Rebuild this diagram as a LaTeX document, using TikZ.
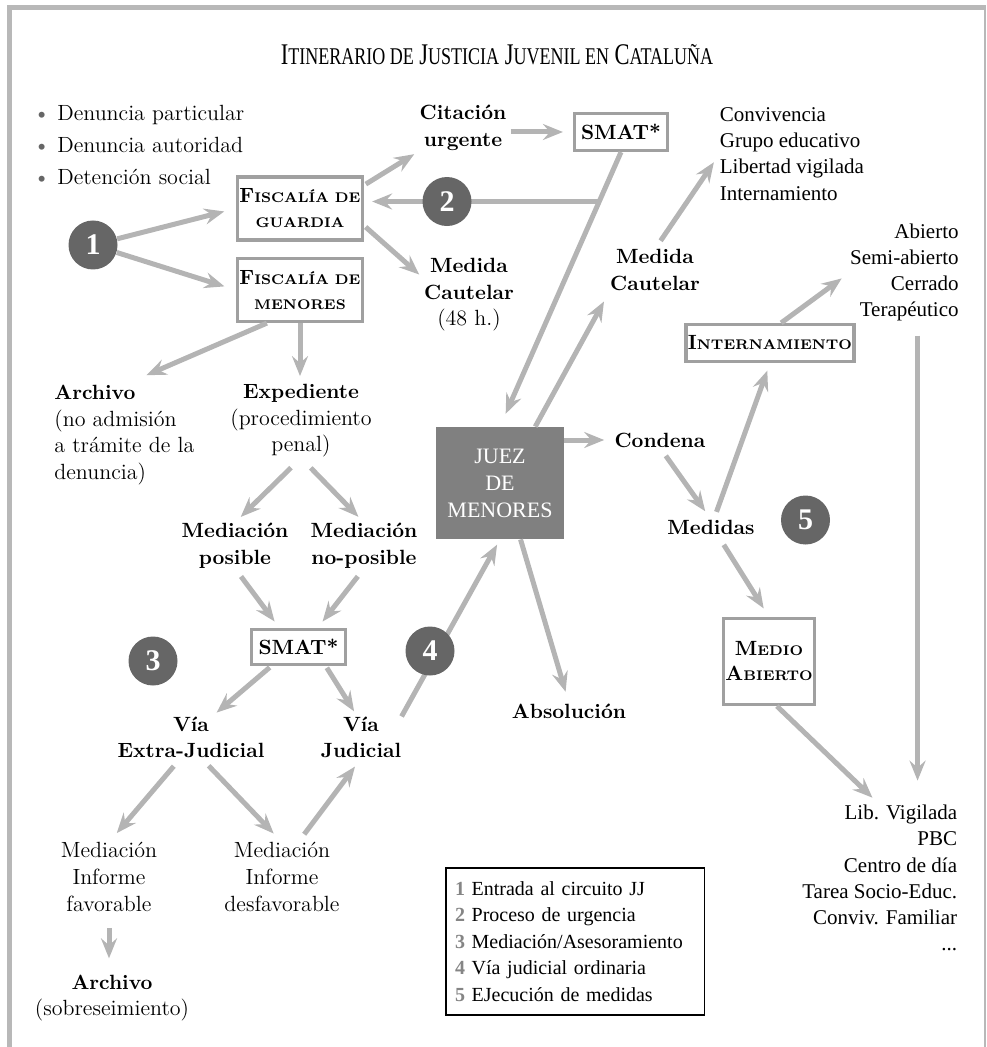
\documentclass[tikz,border=0pt]{standalone}
\usepackage{fontspec}
\newfontfamily\lsf{Liberation Serif}
\usetikzlibrary{arrows.meta}
\definecolor{arrgray}{HTML}{B4B4B4}
\definecolor{boxgray}{HTML}{A0A0A0}
\definecolor{numgray}{HTML}{666666}
\definecolor{juezgray}{HTML}{808080}
\definecolor{framegray}{HTML}{B8B8B8}
\newcommand\capsc[2]{#1{\fontsize{7}{8}\selectfont #2}}
\newcommand\tcap[2]{#1{\fontsize{12}{14}\selectfont #2}}
\newcommand\hd[1]{{\bfseries\fontsize{10.3}{13.3}\selectfont #1}}
\tikzset{
  arr/.style={draw=arrgray, line width=2.5pt, -{Stealth[length=10pt,width=8pt,inset=3.5pt]}},
  lbl/.style={inner sep=0pt, align=center, font=\bfseries\fontsize{10.3}{13.3}\selectfont},
  txt/.style={inner sep=0pt, align=center, font=\fontsize{11}{13.3}\selectfont},
  lst/.style={inner sep=0pt, font=\lsf\fontsize{10.5}{13.1}\selectfont},
  fbox/.style={draw=boxgray, line width=1.6pt, fill=white, align=center, inner sep=1pt,
    minimum width=58.5pt, minimum height=31.5pt, font=\bfseries\fontsize{10.3}{12.5}\selectfont},
  num/.style={circle, fill=numgray, text=white, minimum size=24.5pt, inner sep=0pt,
    font=\lsf\bfseries\fontsize{15}{15}\selectfont},
}
\begin{document}
\begin{tikzpicture}[x=0.5pt, y=-0.5pt]
  \useasboundingbox (0,0) rectangle (986,1047);
  % frame
  \draw[framegray, line width=2.5pt] (9.5,1047) -- (9.5,7.5) -- (986,7.5);
  \draw[framegray, line width=1pt] (985,7.5) -- (985,1047);

  \node[font=\lsf\fontsize{15}{17}\selectfont] (title) at (497,55)
    {\scalebox{0.75}[1]{\tcap{I}{TINERARIO DE} \tcap{J}{USTICIA} \tcap{J}{UVENIL EN} \tcap{C}{ATALUÑA}}};

  % entrada
  \node[txt, anchor=west, align=left, font=\fontsize{11}{16}\selectfont] (src) at (33,145)
    {\textcolor{numgray}{\textbullet}~Denuncia particular\\
     \textcolor{numgray}{\textbullet}~Denuncia autoridad\\
     \textcolor{numgray}{\textbullet}~Detención social};
  \node[num] (n1) at (93,245) {1};
  \node[fbox] (fisg) at (300,208.5) {\capsc{F}{ISCALÍA DE}\\\capsc{}{GUARDIA}};
  \node[fbox] (fism) at (300,290) {\capsc{F}{ISCALÍA DE}\\\capsc{}{MENORES}};
  \node[lbl] (cit) at (463,128) {Citación\\urgente};
  \node[fbox, minimum width=46.5pt, minimum height=18.5pt] (smat1) at (621,132) {SMAT*};
  \node[lbl] (medc1) at (469,295) {Medida\\Cautelar\\{\mdseries\fontsize{11}{13.3}\selectfont (48 h.)}};
  \node[txt, anchor=west, align=left] (arch1) at (54,435)
    {\hd{Archivo}\\(no admisión\\a trámite de la\\denuncia)};
  \node[txt] (exped) at (301,421) {\hd{Expediente}\\(procedimiento\\penal)};
  \node[lbl] (medpos) at (235,545.5) {Mediación\\posible};
  \node[lbl] (medno) at (364,545.5) {Mediación\\no-posible};
  \node[fbox, minimum width=47pt, minimum height=17.5pt] (smat2) at (298.5,647) {SMAT*};
  \node[lbl] (viaext) at (191,737.5) {Vía\\Extra-Judicial};
  \node[lbl] (viajud) at (361,737.5) {Vía\\Judicial};
  \node[txt] (medfav) at (109,877) {Mediación\\Informe\\favorable};
  \node[txt] (meddes) at (282,877) {Mediación\\Informe\\desfavorable};
  \node[txt] (arch2) at (112,998) {\hd{Archivo}\\(sobreseimiento)};
  \node[num] (n3) at (153,661) {3};

  % juez y medidas
  \node[fill=juezgray, text=white, minimum width=64pt, minimum height=56pt, align=center,
    font=\lsf\fontsize{11}{13.5}\selectfont] (juez) at (500,483) {JUEZ\\DE\\MENORES};
  \node[lbl] (medc2) at (655,270) {Medida\\Cautelar};
  \node[lst, anchor=west, align=left] (conv) at (719.5,154)
    {Convivencia\\Grupo educativo\\Libertad vigilada\\Internamiento};
  \node[lbl] (cond) at (660,440) {Condena};
  \node[lbl] (meds) at (711,527) {Medidas};
  \node[num] (n5) at (805.5,520) {5};
  \node[fbox, minimum width=76.5pt, minimum height=18.5pt] (intern) at (770,343) {\capsc{I}{NTERNAMIENTO}};
  \node[lst, anchor=east, align=right] (regim) at (959,272.5)
    {Abierto\\Semi-abierto\\Cerrado\\Terapéutico};
  \node[fbox, minimum width=43.5pt, minimum height=43pt] (medab) at (769,661.5)
    {\capsc{M}{EDIO}\\\capsc{A}{BIERTO}};
  \node[lst, anchor=east, align=right] (abto) at (957.5,878)
    {Lib. Vigilada\\PBC\\Centro de día\\Tarea Socio-Educ.\\Conviv. Familiar\\...};
  \node[lbl] (absol) at (569,711) {Absolución};

  % leyenda
  \node[draw, line width=0.7pt, inner ysep=0pt, inner xsep=4.5pt, text width=120.3pt,
    minimum height=73.5pt, align=left, font=\lsf\fontsize{10}{13.25}\selectfont] (key) at (575.3,941.5)
    {\textcolor{numgray!80}{\textbf{1}} Entrada al circuito JJ\\
     \textcolor{numgray!80}{\textbf{2}} Proceso de urgencia\\
     \textcolor{numgray!80}{\textbf{3}} Mediación/Asesoramiento\\
     \textcolor{numgray!80}{\textbf{4}} Vía judicial ordinaria\\
     \textcolor{numgray!80}{\textbf{5}} EJecución de medidas};

  % flechas
  \draw[arr, shorten >=6pt] (n1) -- (fisg.west);
  \draw[arr, shorten >=6pt] (n1) -- (fism.west);
  \draw[arr, shorten <=1pt, shorten >=3pt] (fisg.20) -- (cit.south west);
  \draw[arr, shorten <=1pt, shorten >=3pt] (fisg.-15) -- (medc1.160);
  \draw[arr, shorten <=2pt, shorten >=5pt] (cit.east |- smat1.west) -- (smat1.west);
  \draw[arr, shorten >=7pt] (smat1.south) -- (juez.north);
  \path (smat1.south) -- (juez.north) coordinate[pos=0.18] (tap);
  \draw[arr, shorten >=4pt] (tap) -- (tap -| fisg.east);
  \draw[arr, shorten >=12pt] (fism.-135) -- (arch1.north);
  \draw[arr, shorten >=4pt] (fism.south) -- (fism.south |- exped.north);
  \draw[arr, shorten <=7pt, shorten >=4pt] (exped.south) -- (medpos.north);
  \draw[arr, shorten <=7pt, shorten >=4pt] (exped.south) -- (medno.north);
  \draw[arr, shorten <=5pt, shorten >=4pt] (medpos.south) -- (smat2.135);
  \draw[arr, shorten <=5pt, shorten >=4pt] (medno.south) -- (smat2.45);
  \draw[arr, shorten <=1pt, shorten >=3pt] (smat2.-145) -- (viaext.45);
  \draw[arr, shorten <=1pt, shorten >=3pt] (smat2.-35) -- (viajud.100);
  \draw[arr, shorten <=5pt, shorten >=6pt] (viaext.-117) -- (medfav.north);
  \draw[arr, shorten <=5pt, shorten >=6pt] (viaext.-63) -- (meddes.north);
  \draw[arr, shorten <=5pt, shorten >=5pt] (meddes.65) -- (viajud.south);
  \draw[arr, shorten <=8pt, shorten >=8pt] (medfav.south) -- (medfav.south |- arch2.north);
  \draw[arr, shorten >=3pt] (viajud.north east) -- (juez.south);
  \draw[arr, shorten >=5pt] (juez.east |- cond.west) -- (cond.west);
  \draw[arr, shorten >=6pt] (juez.58) -- (medc2.south west);
  \draw[arr, shorten <=5pt, shorten >=5pt] (medc2.north) -- (conv.west);
  \draw[arr, shorten >=6pt] (juez.-70) -- (absol.north);
  \draw[arr, shorten <=5pt, shorten >=5pt] (cond.south) -- (meds.north);
  \draw[arr, shorten <=4pt, shorten >=4pt] (meds.70) -- (intern.south);
  \draw[arr, shorten <=6pt, shorten >=5pt] (meds.-50) -- (medab.north);
  \draw[arr, shorten >=5pt] (intern.61) -- (regim.west);
  \draw[arr, shorten <=7pt, shorten >=12pt] (regim.-75) -- (regim.-75 |- abto.north);
  \draw[arr, shorten >=5pt] (medab.-80) -- (abto.north);

  % numeros sobre las lineas
  \node[num] (n2) at (447,0 |- tap) {2};
  \node[num] (n4) at (430,651) {4};
\end{tikzpicture}
\end{document}
